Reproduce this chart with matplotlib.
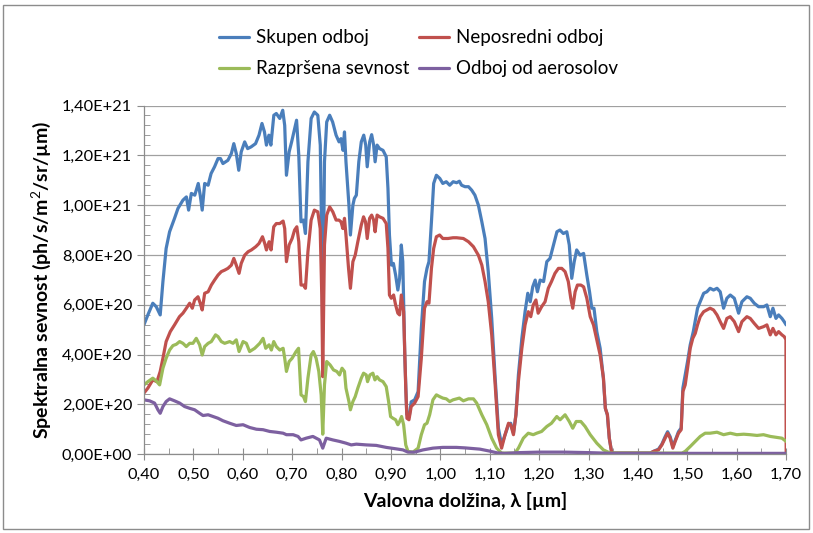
import matplotlib
matplotlib.use("Agg")
import matplotlib.pyplot as plt
from matplotlib import font_manager
from matplotlib.ticker import FixedLocator, FuncFormatter, MultipleLocator
from matplotlib.patches import Rectangle

# ---------------- data (values in units of 1E20) ----------------
wl_skupen = [0.400, 0.408, 0.418, 0.425, 0.433, 0.4385, 0.445, 0.452, 0.462, 0.469, 0.479, 0.486, 0.4905, 0.496,
             0.503, 0.510, 0.514, 0.518, 0.523, 0.530, 0.536, 0.543, 0.550, 0.555, 0.560, 0.570, 0.577, 0.582,
             0.587, 0.592, 0.597, 0.604, 0.610, 0.617, 0.626, 0.633, 0.639, 0.644, 0.648, 0.653, 0.657, 0.663,
             0.668, 0.675, 0.681, 0.685, 0.6885, 0.694, 0.699, 0.705, 0.709, 0.7135, 0.718, 0.723, 0.727, 0.732,
             0.7385, 0.745, 0.752, 0.757, 0.760, 0.762, 0.7655, 0.770, 0.776, 0.782, 0.789, 0.795, 0.799, 0.803,
             0.806, 0.809, 0.815, 0.818, 0.823, 0.826, 0.830, 0.835, 0.840, 0.845, 0.849, 0.852, 0.857, 0.861,
             0.865, 0.868, 0.872, 0.877, 0.884, 0.8905, 0.894, 0.897, 0.901, 0.905, 0.9095, 0.914, 0.9176, 0.921,
             0.924, 0.928, 0.932, 0.937, 0.941, 0.948, 0.955, 0.9615, 0.968, 0.973, 0.977, 0.982, 0.9865, 0.992,
             0.999, 1.005, 1.012, 1.019, 1.026, 1.033, 1.0385, 1.043, 1.050, 1.057, 1.0635, 1.070, 1.077, 1.084,
             1.0905, 1.097, 1.104, 1.111, 1.1175, 1.124, 1.131, 1.138, 1.1425, 1.148, 1.153, 1.158, 1.165, 1.1715,
             1.177, 1.182, 1.187, 1.192, 1.1965, 1.202, 1.209, 1.2155, 1.222, 1.229, 1.236, 1.242, 1.249, 1.256,
             1.261, 1.266, 1.271, 1.276, 1.283, 1.290, 1.2965, 1.302, 1.3066, 1.311, 1.3167, 1.3235, 1.330, 1.334,
             1.338, 1.342, 1.347, 1.425, 1.4315, 1.4416, 1.4484, 1.455, 1.460, 1.4652, 1.4706, 1.4754, 1.482,
             1.4875, 1.4909, 1.5004, 1.5058, 1.512, 1.5206, 1.526, 1.533, 1.5395, 1.546, 1.553, 1.560, 1.5665,
             1.5733, 1.580, 1.5868, 1.595, 1.6037, 1.6104, 1.6205, 1.6273, 1.6354, 1.6442, 1.6543, 1.661, 1.6678,
             1.6732, 1.6793, 1.6847, 1.6914, 1.696, 1.700]
skupen = [5.19, 5.59, 6.06, 5.92, 5.59, 6.93, 8.26, 8.93, 9.47, 9.87, 10.2, 10.33, 9.8, 10.47,
          10.4, 10.87, 10.4, 9.8, 10.87, 10.8, 11.27, 11.54, 11.87, 11.87, 11.67, 11.8, 12.07, 12.47,
          12.07, 11.4, 12.14, 12.54, 12.27, 12.34, 12.47, 12.81, 13.28, 12.94, 12.41, 12.81, 12.41, 13.61,
          13.68, 13.48, 13.81, 13.2, 11.2, 12.14, 12.54, 13.07, 13.41, 12.0, 9.33, 9.4, 8.86, 11.74,
          13.48, 13.74, 13.61, 12.41, 8.5, 5.0, 11.74, 13.34, 13.61, 13.34, 12.81, 12.54, 12.67, 12.2,
          12.94, 11.74, 10.0, 8.8, 10.0, 10.27, 10.4, 11.74, 12.54, 12.81, 12.41, 11.54, 12.54, 12.83,
          12.41, 11.74, 12.41, 12.27, 12.2, 11.94, 10.67, 8.8, 7.59, 7.66, 7.19, 6.59, 7.06, 8.4,
          7.73, 3.98, 1.6, 1.5, 2.1, 2.18, 2.51, 5.05, 6.93, 7.46, 7.73, 9.33, 10.87, 11.2,
          11.07, 10.87, 10.94, 10.8, 10.94, 10.9, 10.96, 10.8, 10.74, 10.74, 10.6, 10.4, 10.0, 9.33,
          8.66, 7.33, 5.45, 3.05, 1.04, 0.37, 0.78, 1.18, 1.24, 0.84, 1.58, 3.18, 4.65, 5.72,
          6.46, 6.12, 6.72, 6.99, 6.52, 6.99, 6.93, 7.73, 7.86, 8.4, 8.93, 9.0, 8.86, 8.93,
          8.4, 7.06, 7.73, 8.2, 7.99, 8.06, 7.19, 6.52, 5.86, 5.86, 4.92, 4.25, 3.05, 1.84,
          1.58, 0.64, 0.04, 0.04, 0.11, 0.2, 0.4, 0.7, 0.9, 0.7, 0.3, 0.55, 0.9,
          1.05, 2.65, 3.72, 4.39, 4.92, 5.86, 6.12, 6.46, 6.52, 6.66, 6.59, 6.66, 6.52,
          5.86, 6.26, 6.39, 6.26, 5.66, 6.12, 6.32, 6.26, 6.06, 5.92, 5.92, 5.99, 5.52,
          5.86, 5.45, 5.59, 5.45, 5.32, 5.19]

wl_neposredni = [0.400, 0.408, 0.418, 0.4264, 0.433, 0.4385, 0.445, 0.4534, 0.462, 0.472, 0.479, 0.486, 0.4926,
                 0.498, 0.5027, 0.5095, 0.514, 0.518, 0.523, 0.530, 0.5365, 0.543, 0.550, 0.5567, 0.5635, 0.570,
                 0.577, 0.582, 0.587, 0.5926, 0.597, 0.604, 0.611, 0.6176, 0.6264, 0.633, 0.640, 0.6446, 0.648,
                 0.6534, 0.6574, 0.6628, 0.668, 0.675, 0.6818, 0.685, 0.6885, 0.694, 0.700, 0.705, 0.7095, 0.7135,
                 0.718, 0.723, 0.727, 0.732, 0.7385, 0.745, 0.752, 0.7568, 0.760, 0.762, 0.7655, 0.770, 0.776,
                 0.7824, 0.789, 0.7946, 0.799, 0.8027, 0.806, 0.809, 0.8142, 0.818, 0.823, 0.8277, 0.833, 0.840,
                 0.8446, 0.8486, 0.852, 0.8568, 0.861, 0.865, 0.868, 0.872, 0.877, 0.884, 0.8905, 0.894, 0.897,
                 0.9007, 0.9054, 0.9095, 0.914, 0.9176, 0.921, 0.9257, 0.930, 0.9324, 0.9365, 0.941, 0.948, 0.955,
                 0.9615, 0.968, 0.973, 0.977, 0.982, 0.9865, 0.992, 0.9986, 1.005, 1.0155, 1.0257, 1.033, 1.0466,
                 1.057, 1.067, 1.077, 1.084, 1.0905, 1.097, 1.104, 1.111, 1.1175, 1.124, 1.131, 1.138, 1.1425,
                 1.148, 1.153, 1.158, 1.165, 1.1715, 1.178, 1.183, 1.188, 1.1935, 1.198, 1.205, 1.212, 1.2185,
                 1.225, 1.232, 1.239, 1.2457, 1.2525, 1.259, 1.264, 1.268, 1.2728, 1.2775, 1.2844, 1.290, 1.2965,
                 1.3034, 1.310, 1.3167, 1.3235, 1.3302, 1.334, 1.3383, 1.342, 1.347, 1.425, 1.4315, 1.4416, 1.4484,
                 1.455, 1.460, 1.4652, 1.4706, 1.4754, 1.482, 1.4875, 1.4909, 1.4956, 1.5004, 1.5058, 1.511, 1.516,
                 1.5206, 1.526, 1.533, 1.5395, 1.546, 1.553, 1.560, 1.5665, 1.5733, 1.580, 1.5868, 1.595, 1.6037,
                 1.6104, 1.6205, 1.6273, 1.6354, 1.6442, 1.6543, 1.661, 1.6678, 1.6732, 1.6793, 1.6847, 1.6914,
                 1.696, 1.6995, 1.700]
neposredni = [2.45, 2.65, 2.98, 2.91, 3.32, 3.85, 4.52, 4.92, 5.19, 5.52, 5.66, 5.86, 6.06,
              5.86, 6.19, 6.32, 6.06, 5.79, 6.46, 6.52, 6.79, 6.99, 7.19, 7.33, 7.39, 7.46,
              7.59, 7.86, 7.59, 7.26, 7.66, 7.99, 8.13, 8.2, 8.33, 8.46, 8.73, 8.46, 8.2,
              8.53, 8.2, 9.13, 9.26, 9.26, 9.36, 9.06, 7.73, 8.4, 8.66, 9.0, 9.13, 8.53,
              6.79, 6.79, 6.66, 8.13, 9.4, 9.8, 9.73, 9.06, 6.39, 3.11, 8.4, 9.6, 9.93,
              9.73, 9.4, 9.4, 9.33, 9.06, 9.47, 8.8, 7.46, 6.66, 7.73, 7.99, 8.53, 9.2,
              9.53, 9.33, 8.66, 9.47, 9.6, 9.4, 8.93, 9.6, 9.53, 9.47, 9.26, 8.26, 6.39,
              6.26, 6.39, 5.99, 5.66, 5.59, 6.39, 5.72, 2.65, 1.44, 1.38, 1.91, 2.05, 2.31,
              3.85, 5.86, 6.12, 6.06, 7.46, 8.26, 8.73, 8.8, 8.66, 8.66, 8.69, 8.69, 8.66,
              8.53, 8.33, 7.99, 7.59, 6.93, 6.12, 4.79, 2.78, 0.78, 0.24, 0.78, 1.24, 1.18,
              0.78, 1.58, 2.91, 4.25, 5.19, 5.72, 5.52, 5.99, 6.19, 5.66, 5.92, 6.12, 6.66,
              6.93, 7.26, 7.46, 7.46, 7.33, 6.93, 6.26, 5.86, 6.52, 6.79, 6.79, 6.72, 6.26,
              5.52, 5.19, 4.59, 3.98, 3.05, 1.84, 1.58, 0.64, 0.04, 0.04, 0.11, 0.17, 0.37,
              0.64, 0.84, 0.64, 0.24, 0.51, 0.84, 0.98, 2.51, 2.78, 3.45, 4.25, 4.65, 4.85,
              5.19, 5.52, 5.72, 5.79, 5.86, 5.79, 5.59, 5.32, 5.05, 5.45, 5.52, 5.32, 4.92,
              5.32, 5.52, 5.45, 5.25, 5.05, 5.12, 5.19, 4.79, 5.05, 4.79, 4.92, 4.79,
              4.72, 4.6, 0.0]

wl_razprsena = [0.400, 0.408, 0.418, 0.425, 0.4318, 0.4385, 0.445, 0.452, 0.4588, 0.4655, 0.4723, 0.479, 0.4858,
                0.4926, 0.4993, 0.506, 0.5128, 0.518, 0.523, 0.530, 0.5365, 0.545, 0.550, 0.5567, 0.5635, 0.5736,
                0.5804, 0.587, 0.5926, 0.6007, 0.6074, 0.614, 0.6243, 0.6345, 0.6412, 0.6466, 0.6534, 0.658,
                0.6628, 0.668, 0.675, 0.6818, 0.685, 0.6885, 0.694, 0.700, 0.708, 0.713, 0.718, 0.723, 0.727,
                0.732, 0.7385, 0.743, 0.7486, 0.754, 0.7588, 0.762, 0.7655, 0.770, 0.777, 0.7838, 0.7905, 0.796,
                0.801, 0.806, 0.809, 0.815, 0.818, 0.823, 0.8277, 0.833, 0.840, 0.8446, 0.850, 0.8527, 0.8575,
                0.8635, 0.8676, 0.872, 0.877, 0.884, 0.8905, 0.8953, 0.8993, 0.9041, 0.9095, 0.914, 0.9176,
                0.9216, 0.9257, 0.930, 0.9345, 0.9446, 0.955, 0.9615, 0.968, 0.973, 0.9784, 0.985, 0.992, 0.9986,
                1.005, 1.012, 1.019, 1.0257, 1.0385, 1.0466, 1.057, 1.067, 1.0736, 1.084, 1.094, 1.104, 1.114,
                1.124, 1.151, 1.158, 1.168, 1.178, 1.188, 1.195, 1.205, 1.2155, 1.225, 1.2357, 1.2424, 1.2525,
                1.261, 1.268, 1.275, 1.2844, 1.293, 1.3034, 1.3167, 1.330, 1.344, 1.489, 1.4956, 1.506, 1.516,
                1.526, 1.536, 1.546, 1.560, 1.5733, 1.587, 1.600, 1.614, 1.627, 1.641, 1.654, 1.668, 1.681,
                1.6914, 1.700]
razprsena = [2.78, 2.91, 3.05, 2.94, 2.78, 3.45, 3.85, 4.18, 4.36, 4.41, 4.52, 4.45, 4.32,
             4.45, 4.45, 4.65, 4.39, 3.98, 4.32, 4.45, 4.52, 4.79, 4.72, 4.52, 4.45, 4.52,
             4.45, 4.59, 4.12, 4.52, 4.45, 4.12, 4.25, 4.45, 4.65, 4.25, 4.39, 4.18,
             4.52, 4.32, 4.18, 4.25, 3.85, 3.32, 3.72, 3.85, 4.12, 4.25, 2.38, 2.31, 2.11,
             3.05, 3.98, 4.12, 3.85, 3.32, 2.38, 0.8, 2.78, 3.72, 3.58, 3.38, 3.32, 3.18,
             3.45, 3.32, 2.65, 2.11, 1.78, 2.11, 2.31, 2.65, 3.05, 3.25, 3.18, 2.91, 3.18,
             3.25, 2.98, 3.11, 2.98, 2.91, 2.71, 2.11, 1.51, 1.44, 1.38, 1.18, 1.31,
             1.51, 1.18, 0.37, 0.11, 0.08, 0.24, 0.78, 1.18, 1.24, 1.58, 2.18, 2.38, 2.31,
             2.25, 2.22, 2.11, 2.18, 2.25, 2.14, 2.22, 2.22, 2.05, 1.58, 1.18, 0.64, 0.24,
             0.04, 0.04, 0.24, 0.64, 0.84, 0.78, 0.84, 0.91, 1.11, 1.24, 1.51, 1.38, 1.58,
             1.31, 1.04, 1.31, 1.31, 1.11, 0.78, 0.44, 0.17, 0.04, 0.04, 0.11, 0.31, 0.51,
             0.71, 0.84, 0.84, 0.88, 0.78, 0.84, 0.78, 0.80, 0.78, 0.75, 0.78, 0.71, 0.67,
             0.64, 0.51]

wl_aerosoli = [0.400, 0.4115, 0.4216, 0.4284, 0.433, 0.4385, 0.445, 0.452, 0.462, 0.4723, 0.4824, 0.4926, 0.5027,
               0.5128, 0.5196, 0.530, 0.540, 0.550, 0.560, 0.5736, 0.587, 0.6007, 0.614, 0.6277, 0.6412, 0.6547,
               0.668, 0.6818, 0.6885, 0.702, 0.712, 0.718, 0.7284, 0.742, 0.7554, 0.762, 0.769, 0.7824, 0.796,
               0.809, 0.8196, 0.830, 0.850, 0.8703, 0.8905, 0.911, 0.9243, 0.9345, 0.948, 0.965, 0.985, 1.005,
               1.0324, 1.05, 1.08, 1.10, 1.115, 1.13, 1.16, 1.20, 1.25, 1.30, 1.35, 1.70]
aerosoli = [2.18, 2.14, 2.05, 1.78, 1.64, 1.91, 2.11, 2.22, 2.14, 2.05, 1.91, 1.84, 1.78,
            1.64, 1.55, 1.58, 1.51, 1.44, 1.34, 1.24, 1.15, 1.18, 1.07, 1.00, 0.98, 0.91,
            0.88, 0.84, 0.78, 0.78, 0.71, 0.57, 0.64, 0.71, 0.57, 0.24, 0.64, 0.57, 0.51,
            0.44, 0.37, 0.40, 0.37, 0.35, 0.27, 0.21, 0.17, 0.08, 0.08, 0.17, 0.24, 0.27,
            0.27, 0.25, 0.2, 0.12, 0.05, 0.03, 0.06, 0.08, 0.08, 0.06, 0.03, 0.03]

labels = ["Skupen odboj", "Neposredni odboj", "Razpršena sevnost", "Odboj od aerosolov"]
x_ticks = [0.40, 0.50, 0.60, 0.70, 0.80, 0.90, 1.00, 1.10, 1.20, 1.30, 1.40, 1.50, 1.60, 1.70]
y_ticks = [0, 2e20, 4e20, 6e20, 8e20, 1e21, 1.2e21, 1.4e21]
x_title = "Valovna dolžina, λ [µm]"
y_title = "Spektralna sevnost (ph/s/m$^2$/sr/µm)"

colors = ["#4A7EBB", "#C0504D", "#9BBB59", "#7D60A0"]

# ---------------- font ----------------
family = "DejaVu Sans"
for cand in ["Liberation Sans Narrow", "Lato", "Open Sans"]:
    try:
        font_manager.findfont(cand, fallback_to_default=False)
        family = cand
        break
    except Exception:
        pass
plt.rcParams["font.family"] = [family, "DejaVu Sans"]
plt.rcParams["mathtext.fontset"] = "custom"
plt.rcParams["mathtext.rm"] = family
plt.rcParams["mathtext.bf"] = family + ":bold"

fig = plt.figure(figsize=(8.13, 5.33), dpi=100)
ax = fig.add_axes([0.177, 0.148, 0.790, 0.654])

series = [(wl_skupen, skupen), (wl_neposredni, neposredni), (wl_razprsena, razprsena), (wl_aerosoli, aerosoli)]
handles = []
for (wl, vals), c, lab in zip(series, colors, labels):
    h, = ax.plot(wl, [v * 1e20 for v in vals], color=c, lw=2.3, label=lab,
                 solid_joinstyle="round", solid_capstyle="round")
    handles.append(h)

ax.set_xlim(0.40, 1.70)
ax.set_ylim(0, 1.4e21)
ax.xaxis.set_major_locator(FixedLocator(x_ticks))
ax.xaxis.set_minor_locator(MultipleLocator(0.05))
ax.yaxis.set_major_locator(FixedLocator(y_ticks))
ax.yaxis.set_minor_locator(MultipleLocator(4e19))
ax.xaxis.set_major_formatter(FuncFormatter(lambda v, p: f"{v:.2f}".replace(".", ",")))
ax.yaxis.set_major_formatter(FuncFormatter(lambda v, p: f"{v:.2E}".replace(".", ",")))

ax.grid(axis="y", which="major", color="#A0A0A0", lw=0.9)
ax.set_axisbelow(True)
for s in ["top", "right"]:
    ax.spines[s].set_visible(False)
for s in ["left", "bottom"]:
    ax.spines[s].set_color("#8C8C8C")
    ax.spines[s].set_linewidth(0.9)
ax.tick_params(which="major", direction="out", length=5, color="#8C8C8C", labelsize=11.8,
               labelcolor="black")
ax.tick_params(which="minor", direction="in", length=4, color="#8C8C8C")
ax.tick_params(axis="x", which="major", direction="inout", length=8, pad=6)

ax.set_xlabel(x_title, fontsize=14, fontweight="bold", labelpad=7)
ax.set_ylabel(y_title, fontsize=14, fontweight="bold", labelpad=6)

leg_handles = [handles[0], handles[2], handles[1], handles[3]]
fig.legend(leg_handles, [h.get_label() for h in leg_handles], ncol=2, loc="center",
           bbox_to_anchor=(0.515, 0.9), frameon=False, fontsize=13.5, handlelength=1.6,
           handletextpad=0.37, columnspacing=0.5, labelspacing=0.75)

fig.patches.append(Rectangle((0.004, 0.008), 0.991, 0.982, transform=fig.transFigure, fill=False,
                             edgecolor="#8C8C8C", lw=1.0))

fig.savefig("out.png", dpi=100)
